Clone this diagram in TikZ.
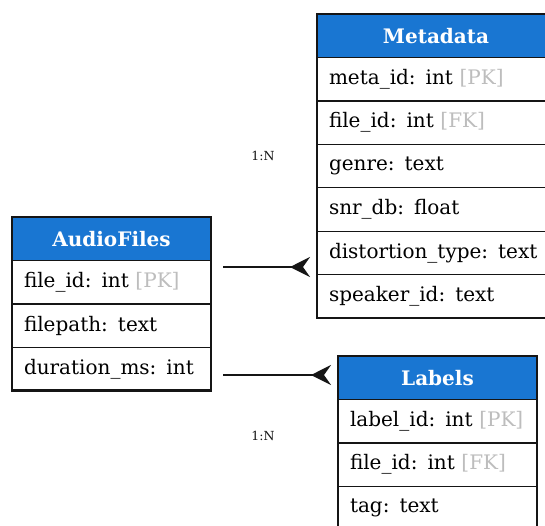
\documentclass[tikz,border=0pt]{standalone}
\usepackage{fontspec}
\setmainfont{DejaVu Serif}
\usetikzlibrary{arrows.meta}
\definecolor{hdrblue}{HTML}{1976D2}
\definecolor{keygray}{HTML}{BDBDBD}
\definecolor{edge}{HTML}{151515}
\tikzset{
  hdr/.style={draw=edge, line width=1.2pt, fill=hdrblue, text=white, font=\fontsize{20}{22}\selectfont\bfseries,
    anchor=north west, minimum height=43.5pt, inner xsep=12pt, inner ysep=0pt, outer sep=0pt},
  row/.style={draw=edge, line width=1.2pt, fill=white, font=\fontsize{20}{22}\selectfont, align=left,
    anchor=north west, minimum height=43.4pt, inner xsep=12pt, inner ysep=0pt, outer sep=0pt},
  frame/.style={draw=edge, line width=2.6pt},
  conn/.style={draw=edge, line width=2.2pt, -{Stealth[reversed, length=20pt, width=20pt, inset=7pt]}},
  card/.style={font=\fontsize{12.5}{14}\selectfont, text=edge}
}
\newcommand{\pk}[1]{\textcolor{keygray}{[#1]}}
\begin{document}
\begin{tikzpicture}[x=1pt,y=-1pt]
\useasboundingbox (0,0) rectangle (545,525);
\clip (0,0) rectangle (545,525);
% AudioFiles
\node[hdr, text width=175pt, align=center] (af) at (12,217) {AudioFiles};
\node[row, text width=175pt] (af1) at (af.south west) {file\_id: int \pk{PK}};
\node[row, text width=175pt] (af2) at (af1.south west) {filepath: text};
\node[row, text width=175pt] (af3) at (af2.south west) {duration\_ms: int};
\draw[frame] (af.north west) rectangle (af3.south east);
% Metadata
\node[hdr, text width=214pt, align=center] (md) at (317,14) {Metadata};
\node[row, text width=214pt] (md1) at (md.south west) {meta\_id: int \pk{PK}};
\node[row, text width=214pt] (md2) at (md1.south west) {file\_id: int \pk{FK}};
\node[row, text width=214pt] (md3) at (md2.south west) {genre: text};
\node[row, text width=214pt] (md4) at (md3.south west) {snr\_db: float};
\node[row, text width=214pt] (md5) at (md4.south west) {distortion\_type: text};
\node[row, text width=214pt] (md6) at (md5.south west) {speaker\_id: text};
\draw[frame] (md.north west) rectangle (md6.south east);
% Labels
\node[hdr, text width=175pt, align=center] (lb) at (338,356) {Labels};
\node[row, text width=175pt] (lb1) at (lb.south west) {label\_id: int \pk{PK}};
\node[row, text width=175pt] (lb2) at (lb1.south west) {file\_id: int \pk{FK}};
\node[row, text width=175pt] (lb3) at (lb2.south west) {tag: text};
\draw[frame] (lb.north west) rectangle (lb3.south east);
% connectors
\draw[conn, shorten <=12pt, shorten >=7pt] (af1.east |- 0,267) -- (md5.west |- 0,267);
\draw[conn, shorten <=12pt, shorten >=7pt] (af3.east |- 0,375) -- (lb.west |- 0,375);
\node[card] (c1) at (263,156) {1:N};
\node[card] (c2) at (263,436) {1:N};
\end{tikzpicture}
\end{document}
